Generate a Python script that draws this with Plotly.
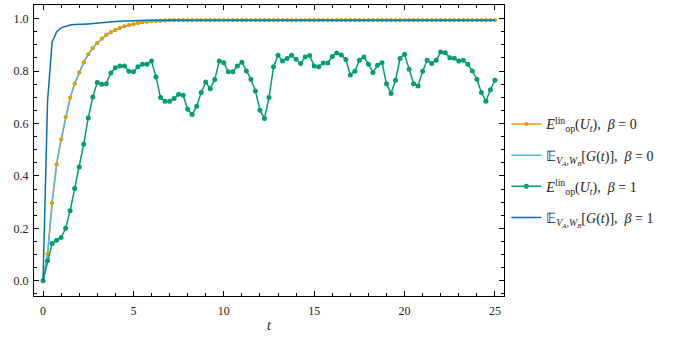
import plotly.graph_objects as go

t = [0.25 * i for i in range(101)]

# E_op^lin(U_t), beta = 0 (orange markers) -- same curve as light-blue line
orange_vals = [0.0, 0.102, 0.297, 0.444, 0.539, 0.625, 0.698, 0.752, 0.795, 0.833,
               0.864, 0.888, 0.907, 0.924, 0.938, 0.948, 0.957, 0.964, 0.971, 0.976,
               0.979, 0.983, 0.986, 0.988, 0.990, 0.991, 0.992, 0.993] + [0.994] * 73

lightblue_vals = list(orange_vals)

# E_op^lin(U_t), beta = 1 (green)
green_vals = [0.0, 0.076, 0.142, 0.155, 0.165, 0.200, 0.267, 0.352, 0.434, 0.521,
              0.621, 0.701, 0.756, 0.750, 0.752, 0.793, 0.813, 0.819, 0.819, 0.799,
              0.797, 0.816, 0.826, 0.826, 0.838, 0.777, 0.699, 0.685, 0.685, 0.695,
              0.712, 0.708, 0.654, 0.634, 0.666, 0.718, 0.758, 0.733, 0.768, 0.838,
              0.832, 0.797, 0.797, 0.819, 0.834, 0.800, 0.769, 0.724, 0.651, 0.619,
              0.699, 0.816, 0.860, 0.838, 0.848, 0.860, 0.845, 0.829, 0.854, 0.859,
              0.819, 0.816, 0.831, 0.831, 0.856, 0.869, 0.861, 0.844, 0.785, 0.799,
              0.841, 0.854, 0.826, 0.795, 0.822, 0.832, 0.752, 0.714, 0.765, 0.848,
              0.864, 0.807, 0.752, 0.743, 0.799, 0.841, 0.829, 0.841, 0.873, 0.870,
              0.851, 0.849, 0.838, 0.841, 0.826, 0.800, 0.769, 0.718, 0.685, 0.729,
              0.765]

# E_{VA,WB}[G(t)], beta = 1 (dark blue)
darkblue_vals = [0.0, 0.685, 0.910, 0.949, 0.965, 0.972, 0.976, 0.978, 0.978, 0.979,
                 0.980, 0.981, 0.983, 0.984, 0.986, 0.987, 0.989, 0.990, 0.991, 0.992,
                 0.993] + [0.994] * 80

ORANGE = "#E69F00"
LIGHTBLUE = "#56B4E9"
GREEN = "#009E73"
DARKBLUE = "#0072B2"
SERIF = "Liberation Serif, Times New Roman, serif"

lab_op0 = "<i>E</i><sup>lin</sup><sub>op</sub>(<i>U<sub>t</sub></i>),  <i>β</i> = 0"
lab_g0 = "𝔼<sub><i>V<sub>A</sub></i>,<i>W<sub>B</sub></i></sub>[<i>G</i>(<i>t</i>)],  <i>β</i> = 0"
lab_op1 = "<i>E</i><sup>lin</sup><sub>op</sub>(<i>U<sub>t</sub></i>),  <i>β</i> = 1"
lab_g1 = "𝔼<sub><i>V<sub>A</sub></i>,<i>W<sub>B</sub></i></sub>[<i>G</i>(<i>t</i>)],  <i>β</i> = 1"

fig = go.Figure()
fig.add_trace(go.Scatter(x=t, y=orange_vals, mode="lines+markers", name=lab_op0,
                         legendgroup="a",
                         line=dict(color=ORANGE, width=1.5),
                         marker=dict(color=ORANGE, size=4)))
fig.add_trace(go.Scatter(x=t, y=lightblue_vals, mode="lines", name=lab_g0,
                         legendgroup="b",
                         line=dict(color=LIGHTBLUE, width=1.5)))
fig.add_trace(go.Scatter(x=t, y=orange_vals, mode="markers", showlegend=False,
                         legendgroup="a",
                         marker=dict(color=ORANGE, size=4), hoverinfo="skip"))
fig.add_trace(go.Scatter(x=t, y=green_vals, mode="lines+markers", name=lab_op1,
                         legendgroup="c",
                         line=dict(color=GREEN, width=1.5),
                         marker=dict(color=GREEN, size=5)))
fig.add_trace(go.Scatter(x=t, y=darkblue_vals, mode="lines", name=lab_g1,
                         legendgroup="d",
                         line=dict(color=DARKBLUE, width=1.5)))

axis_common = dict(showline=True, linecolor="black", linewidth=1, mirror="ticks",
                   ticks="inside", ticklen=5, tickwidth=1, tickcolor="black",
                   showgrid=False, zeroline=False, automargin=False,
                   tickfont=dict(family=SERIF, size=12, color="#222"))

fig.update_xaxes(range=[-0.5, 25.5], tickvals=[0, 5, 10, 15, 20, 25],
                 minor=dict(dtick=1, ticks="inside", ticklen=3, tickcolor="black"),
                 ticklabelstandoff=4,
                 **axis_common)
fig.update_yaxes(range=[-0.058, 1.052], tickvals=[0, 0.2, 0.4, 0.6, 0.8, 1.0],
                 tickformat=".1f",
                 minor=dict(dtick=0.05, tick0=0, ticks="inside", ticklen=3, tickcolor="black"),
                 ticklabelstandoff=2,
                 **axis_common)

fig.add_annotation(text="<i>t</i>", x=0.5, y=-0.1, xref="paper", yref="paper",
                   xanchor="center", yanchor="middle", showarrow=False,
                   font=dict(family=SERIF, size=14, color="#222"))

fig.update_layout(
    width=700, height=339,
    margin=dict(l=34, r=196, t=5, b=43),
    plot_bgcolor="white", paper_bgcolor="white",
    font=dict(family=SERIF, size=13, color="#222"),
    legend=dict(x=1.005, y=0.43, xanchor="left", yanchor="middle",
                font=dict(family=SERIF, size=14, color="#222"),
                bgcolor="rgba(0,0,0,0)", itemwidth=30, tracegroupgap=10),
    showlegend=True,
)

fig.write_html("out.html", config={"displayModeBar": False},
               post_script="document.body.style.margin='0';")
